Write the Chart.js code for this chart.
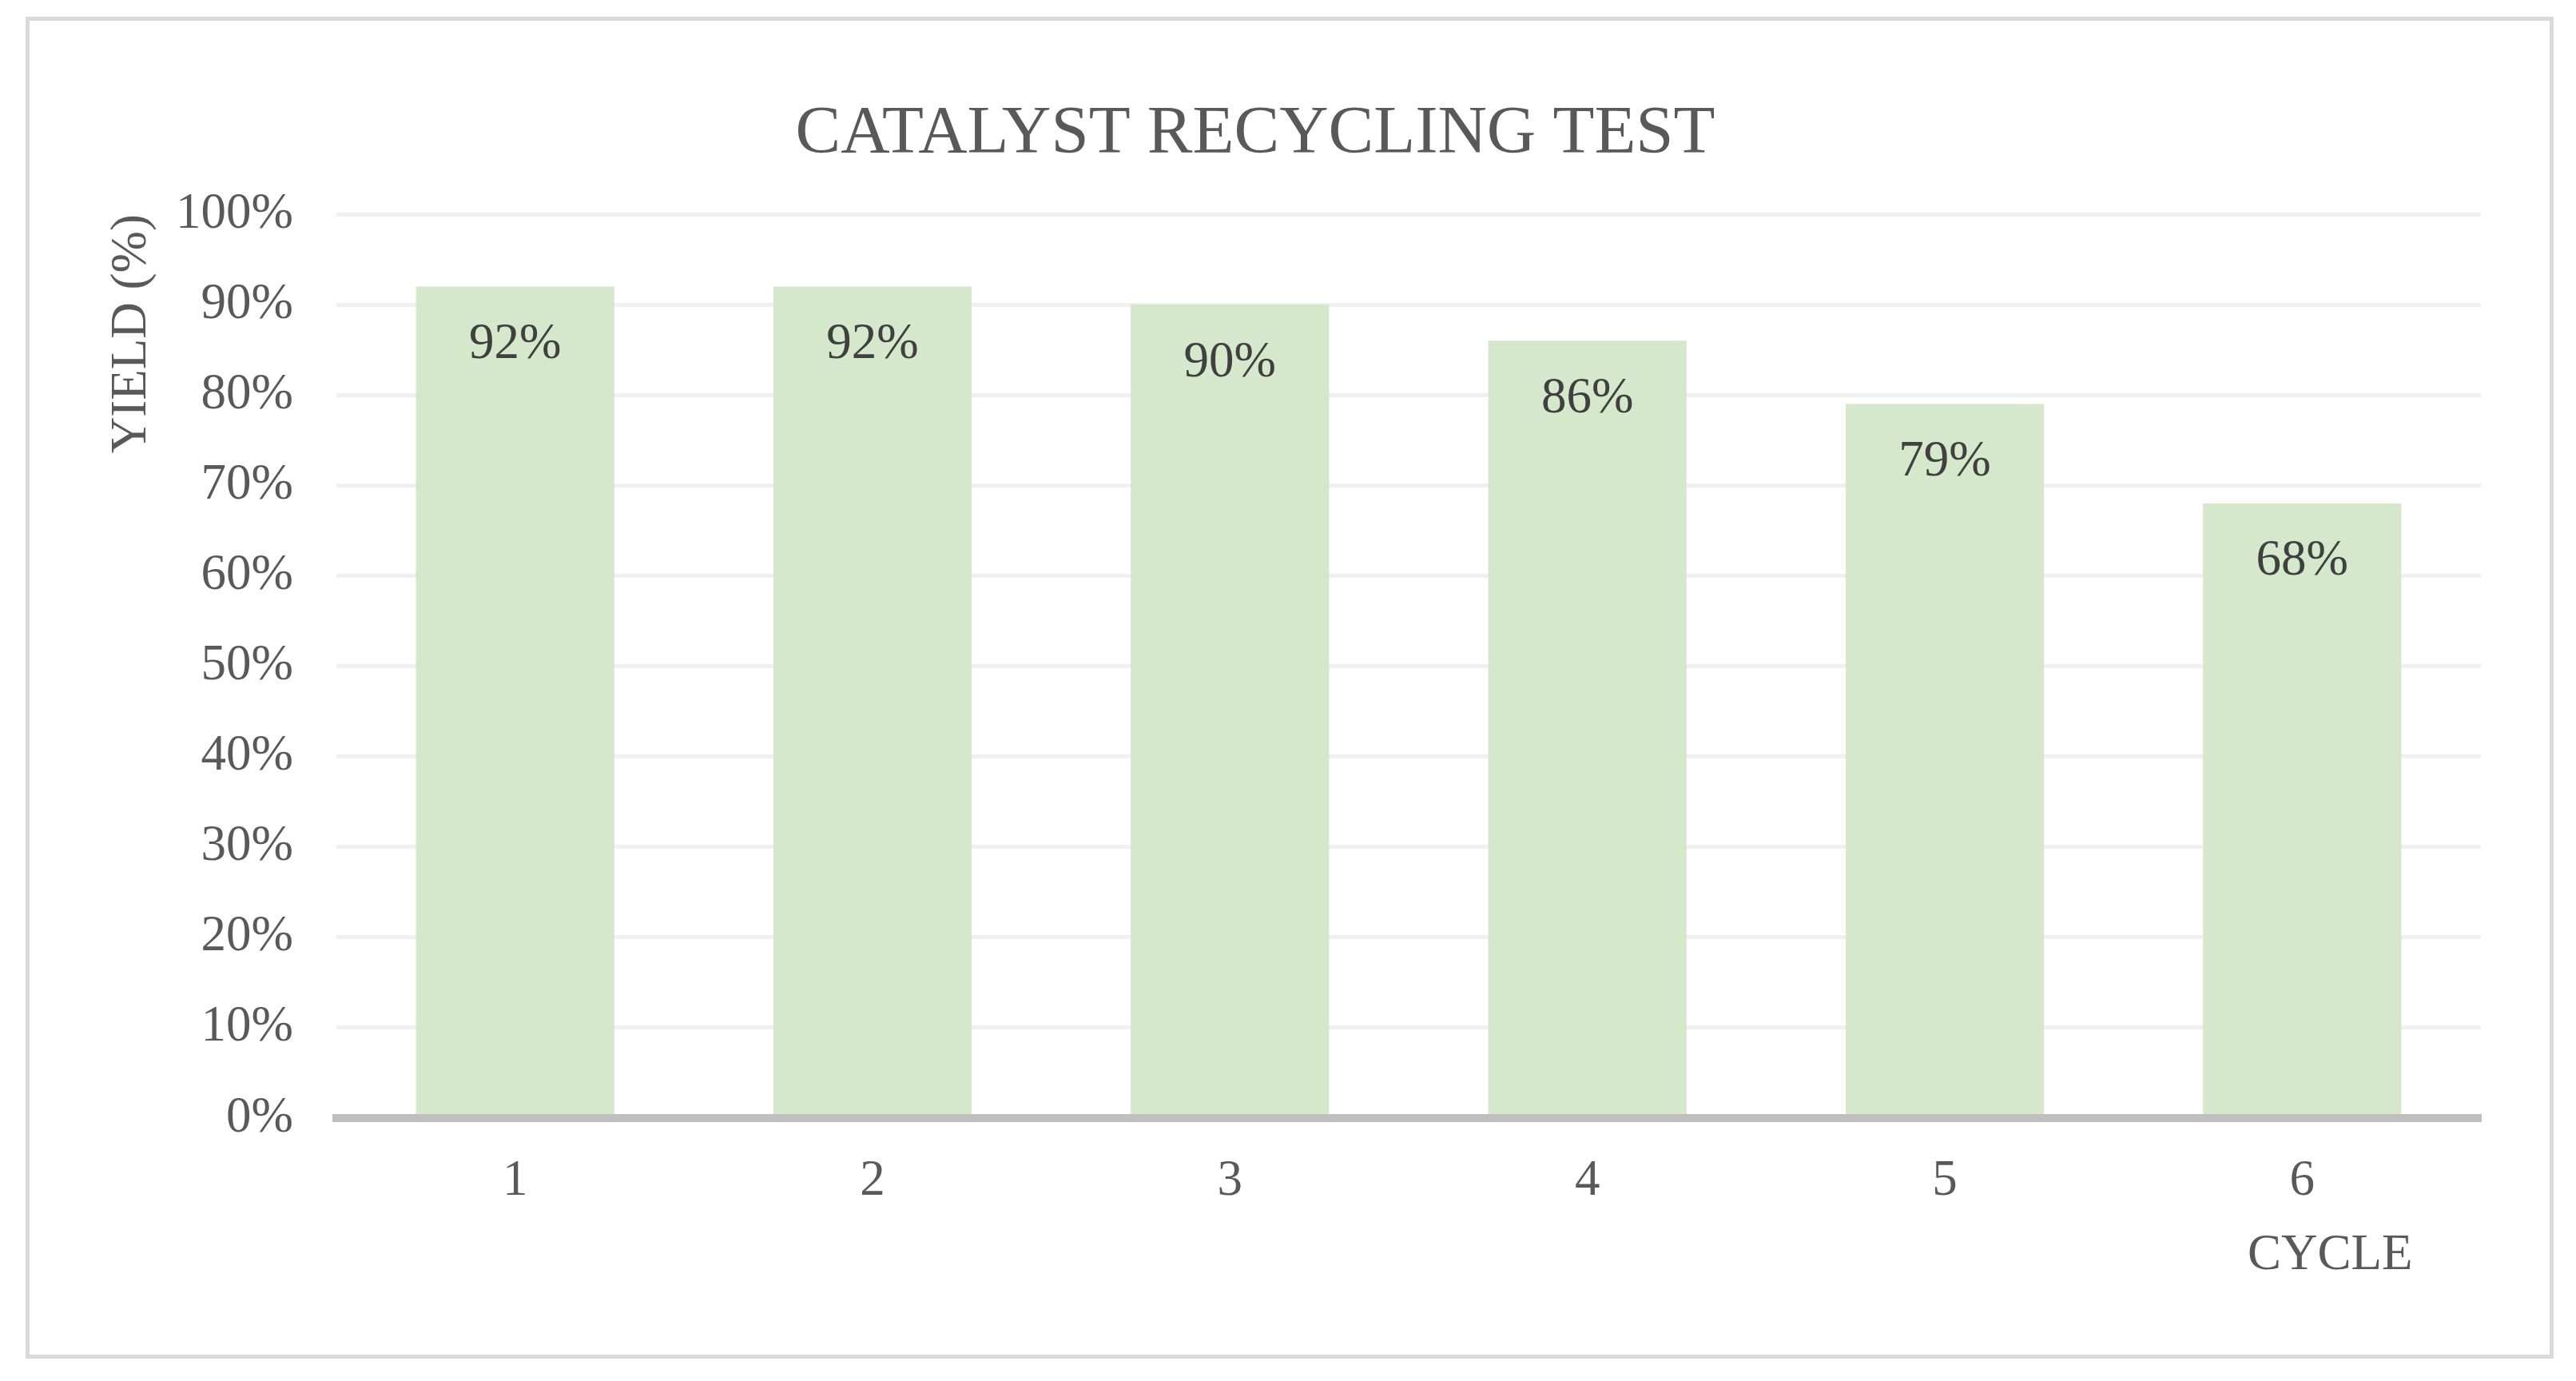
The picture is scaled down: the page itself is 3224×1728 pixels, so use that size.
<!DOCTYPE html>
<html lang="en">
<head>
    <meta charset="UTF-8">
    <title>Catalyst Recycling Test</title>
    <script src="https://cdn.jsdelivr.net/npm/chart.js@4"></script>
    <style>
        html, body { margin: 0; padding: 0; background: #fff; }
        #frame {
            position: absolute;
            left: 32px; top: 21px;
            width: 3164px; height: 1679px;
            border: 5px solid #d9d9d9;
            box-sizing: border-box;
            background: #fff;
        }
        #wrap { position: absolute; left: 0; top: 0; width: 3154px; height: 1669px; }
    </style>
</head>
<body>
    <div id="frame">
        <div id="wrap"><canvas id="yieldChart"></canvas></div>
    </div>

    <script>
        // data
        const cycles = ['1', '2', '3', '4', '5', '6'];
        const yields = [92, 92, 90, 86, 79, 68];
        const yMin = 0;
        const yMax = 100;
        const yStep = 10;

        const serif = '"Liberation Serif", "Times New Roman", serif';
        const textGrey = '#595959';

        // value labels inside the top of each bar
        const barLabels = {
            id: 'barLabels',
            afterDatasetsDraw(chart) {
                const ctx = chart.ctx;
                const meta = chart.getDatasetMeta(0);
                ctx.save();
                ctx.font = '63px ' + serif;
                ctx.fillStyle = '#404040';
                ctx.textAlign = 'center';
                ctx.textBaseline = 'middle';
                meta.data.forEach((bar, i) => {
                    ctx.fillText(yields[i] + '%', bar.x, bar.y + 73);
                });
                ctx.restore();
            }
        };

        // x axis title sits under the last category, like the original
        const xTitle = {
            id: 'xTitle',
            afterDraw(chart) {
                const ctx = chart.ctx;
                const x = chart.scales.x.getPixelForValue(cycles.length - 1) + 35;
                ctx.save();
                ctx.font = '63px ' + serif;
                ctx.fillStyle = textGrey;
                ctx.textAlign = 'center';
                ctx.textBaseline = 'middle';
                ctx.fillText('CYCLE', x, chart.chartArea.bottom + 172);
                ctx.restore();
            }
        };

        new Chart(document.getElementById('yieldChart'), {
            type: 'bar',
            data: {
                labels: cycles,
                datasets: [{
                    label: 'Yield',
                    data: yields,
                    backgroundColor: 'rgba(208, 229, 197, 0.9)',
                    borderWidth: 0,
                    categoryPercentage: 1,
                    barPercentage: 0.555
                }]
            },
            options: {
                responsive: true,
                maintainAspectRatio: false,
                animation: false,
                layout: { padding: { left: 0, right: 86, top: 0, bottom: 0 } },
                plugins: {
                    legend: { display: false },
                    tooltip: { enabled: false },
                    title: {
                        display: true,
                        text: 'CATALYST RECYCLING TEST',
                        color: textGrey,
                        font: { family: serif, size: 85, weight: 'normal' },
                        padding: { top: 92, bottom: 48 }
                    }
                },
                scales: {
                    x: {
                        grid: { display: false, drawTicks: false },
                        border: { display: true, color: '#bfbfbf', width: 10, z: 1 },
                        ticks: {
                            color: textGrey,
                            padding: 42,
                            font: { family: serif, size: 63 }
                        },
                        afterFit(scale) { scale.height = 296; }
                    },
                    y: {
                        min: yMin,
                        max: yMax,
                        grid: { color: '#f0f0f0', lineWidth: 5, drawTicks: false },
                        border: { display: false },
                        ticks: {
                            stepSize: yStep,
                            color: textGrey,
                            padding: 54,
                            font: { family: serif, size: 63 },
                            callback: v => v + '%'
                        },
                        title: {
                            display: true,
                            text: 'YIELD (%)',
                            align: 'end',
                            color: textGrey,
                            font: { family: serif, size: 63 },
                            padding: { top: 91, bottom: 0 }
                        },
                        afterFit(scale) { scale.width = 384; }
                    }
                }
            },
            plugins: [barLabels, xTitle]
        });
    </script>
</body>
</html>
